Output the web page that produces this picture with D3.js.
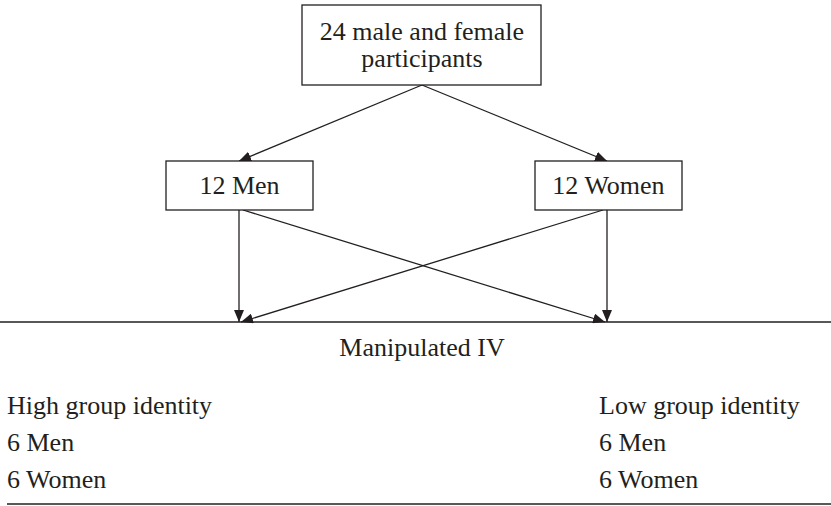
<!DOCTYPE html>
<html lang="en">
<head>
    <meta charset="UTF-8">
    <title>Design flow</title>
    <script src="https://d3js.org/d3.v7.min.js"></script>
    <style>
        body { margin: 0; background: #fff; }
        svg { display: block; }
        text { font-family: "Liberation Serif", "Times New Roman", serif; fill: #231f20; }
        .box { fill: #fff; stroke: #231f20; stroke-width: 1.3; }
        .link, .rule { stroke: #231f20; stroke-width: 1.3; fill: none; }
    </style>
</head>
<body>
    <svg width="831" height="506"></svg>
    <script>
        // labels
        const topLabel = ["24 male and female", "participants"];
        const groups = ["12 Men", "12 Women"];
        const ivLabel = "Manipulated IV";
        const conditions = ["High group identity", "Low group identity"];
        const cellRows = ["6 Men", "6 Women"];

        const svg = d3.select("svg");
        const W = 831;
        const fs = 26;

        // column positions
        const col = d3.scalePoint().domain(groups).range([239, 607]);
        const boxX = d3.scaleOrdinal().domain(groups).range([166, 535]);
        const centerX = 422;

        svg.append("defs").append("marker")
            .attr("id", "arrow")
            .attr("viewBox", "0 0 12 10")
            .attr("refX", 12).attr("refY", 5)
            .attr("markerWidth", 12).attr("markerHeight", 10)
            .attr("markerUnits", "userSpaceOnUse")
            .attr("orient", "auto")
            .append("path").attr("d", "M0,0L12,5L0,10z").attr("fill", "#231f20");

        const topBox = {x0: 302, x1: 541, y0: 5, y1: 85};
        const grpY0 = 161, grpY1 = 210, grpW = 147;
        const ruleY = 322;

        // arrows from top box
        groups.forEach(gname => {
            svg.append("line").attr("class", "link")
                .attr("x1", centerX).attr("y1", topBox.y1)
                .attr("x2", col(gname)).attr("y2", grpY0)
                .attr("marker-end", "url(#arrow)");
        });

        // arrows from groups to IV line
        groups.forEach(gname => {
            groups.forEach(target => {
                const same = gname === target;
                const dir = col(target) > col(gname) ? 1 : -1;
                svg.append("line").attr("class", "link")
                    .attr("x1", same ? col(gname) : col(gname) + 4 * dir).attr("y1", grpY1)
                    .attr("x2", same ? col(target) : col(target) - 2 * dir).attr("y2", ruleY)
                    .attr("marker-end", "url(#arrow)");
            });
        });

        // top box
        svg.append("rect").attr("class", "box")
            .attr("x", topBox.x0).attr("y", topBox.y0)
            .attr("width", topBox.x1 - topBox.x0).attr("height", topBox.y1 - topBox.y0);
        svg.selectAll(".toplabel").data(topLabel).join("text")
            .attr("class", "toplabel")
            .attr("x", centerX).attr("y", (d, i) => 40 + i * 27)
            .attr("text-anchor", "middle").attr("font-size", fs)
            .text(d => d);

        // group boxes
        const gb = svg.selectAll(".grp").data(groups).join("g").attr("class", "grp");
        gb.append("rect").attr("class", "box")
            .attr("x", d => boxX(d)).attr("y", grpY0)
            .attr("width", grpW).attr("height", grpY1 - grpY0);
        gb.append("text")
            .attr("x", d => boxX(d) + grpW / 2)
            .attr("y", 194).attr("text-anchor", "middle").attr("font-size", fs)
            .text(d => d);

        // rules
        svg.append("line").attr("class", "rule")
            .attr("x1", 0).attr("x2", W).attr("y1", ruleY).attr("y2", ruleY);
        svg.append("line").attr("class", "rule")
            .attr("x1", 7).attr("x2", W).attr("y1", 504).attr("y2", 504);

        svg.append("text").attr("x", centerX).attr("y", 356)
            .attr("text-anchor", "middle").attr("font-size", fs).text(ivLabel);

        // condition columns
        const condX = d3.scaleOrdinal().domain(conditions).range([7, 599]);
        conditions.forEach(c => {
            const lines = [c].concat(cellRows);
            svg.selectAll(null).data(lines).join("text")
                .attr("x", condX(c)).attr("y", (d, i) => 414 + i * 37)
                .attr("font-size", fs).text(d => d);
        });
    </script>
</body>
</html>
